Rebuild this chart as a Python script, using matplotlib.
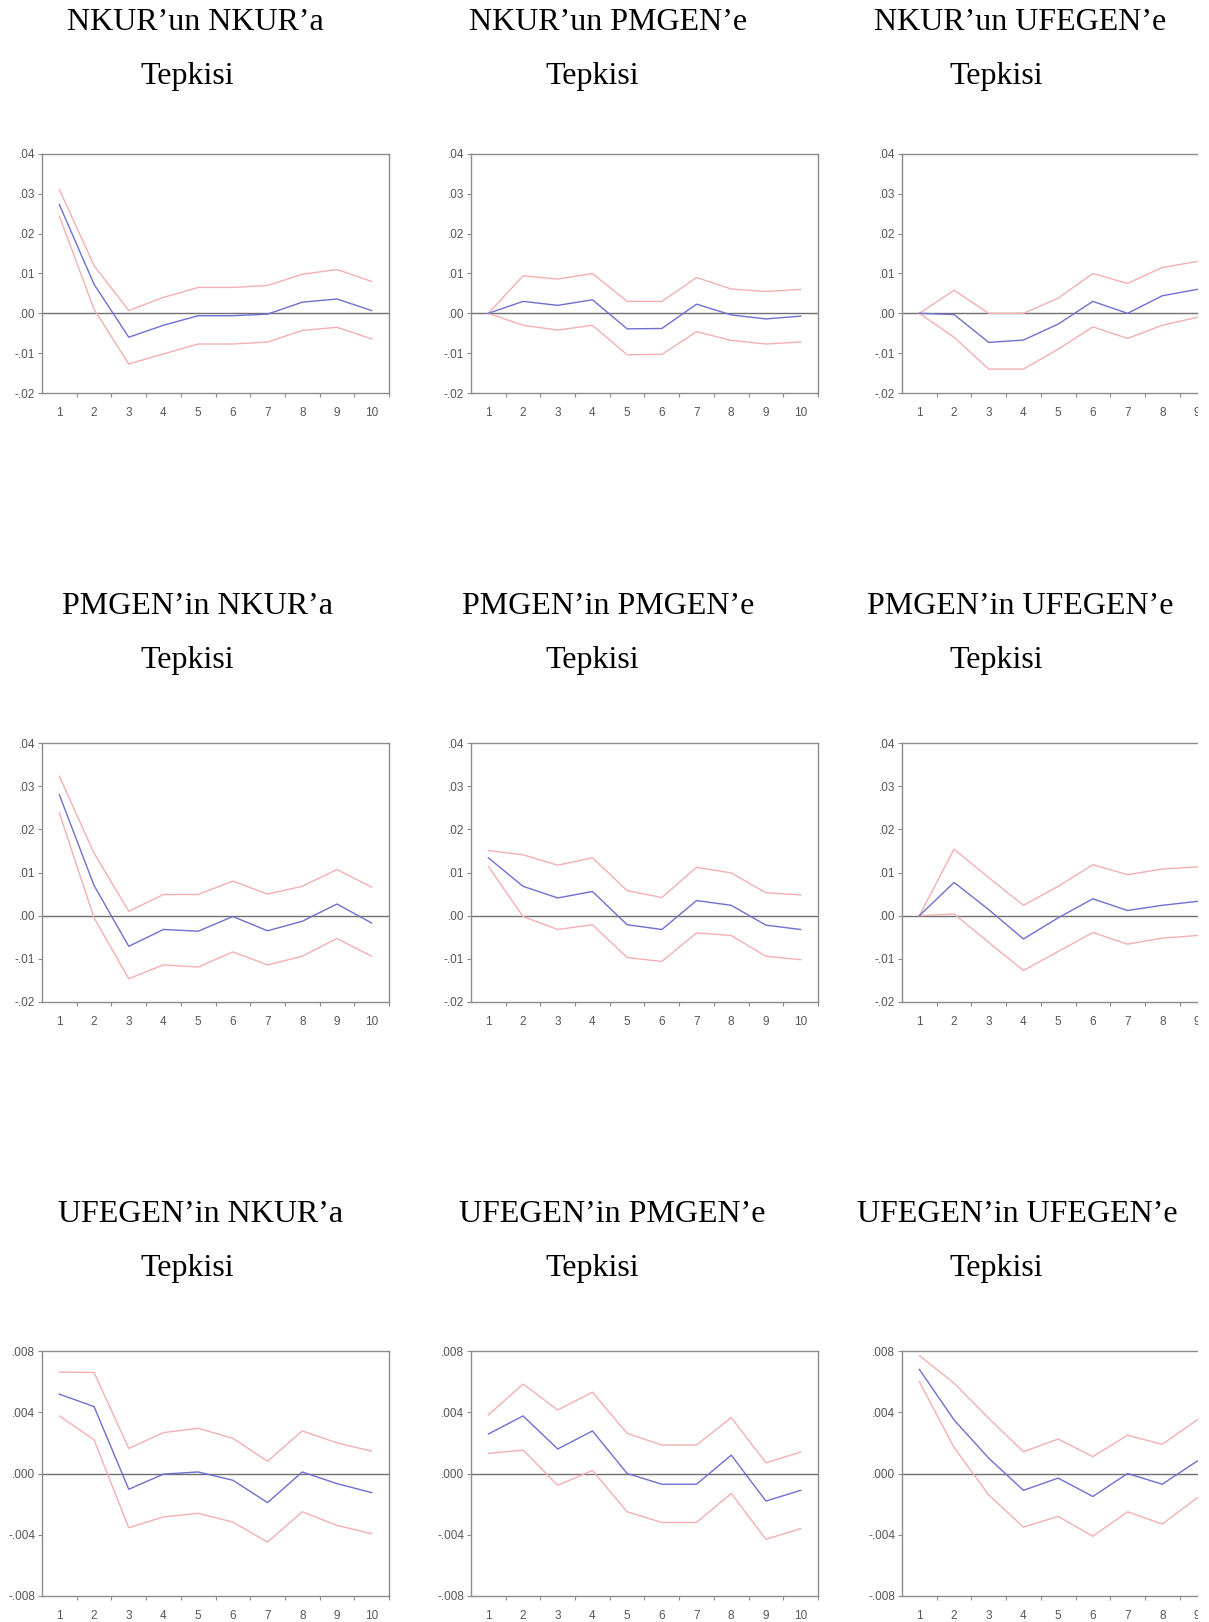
import matplotlib
matplotlib.use('Agg')
import matplotlib.pyplot as plt
from matplotlib.patches import Rectangle

W, H = 1209, 1622

periods = [1, 2, 3, 4, 5, 6, 7, 8, 9, 10]

# row 1: NKUR responses
nkur_nkur = [0.0273, 0.0073, -0.0060, -0.0030, -0.0006, -0.0006, -0.0002, 0.0028, 0.0036, 0.0007]
nkur_nkur_up = [0.0311, 0.0120, 0.0007, 0.0040, 0.0065, 0.0065, 0.0070, 0.0098, 0.0110, 0.0080]
nkur_nkur_lo = [0.0244, 0.0010, -0.0127, -0.0102, -0.0077, -0.0077, -0.0072, -0.0043, -0.0035, -0.0064]

nkur_pmgen = [0.0, 0.0030, 0.0020, 0.0034, -0.0039, -0.0038, 0.0023, -0.0004, -0.0014, -0.0007]
nkur_pmgen_up = [0.0, 0.0094, 0.0086, 0.0100, 0.0030, 0.0030, 0.0090, 0.0061, 0.0055, 0.0060]
nkur_pmgen_lo = [0.0, -0.0030, -0.0042, -0.0030, -0.0104, -0.0103, -0.0046, -0.0068, -0.0077, -0.0072]

nkur_ufegen = [0.0, -0.0003, -0.0073, -0.0067, -0.0027, 0.0030, 0.0, 0.0044, 0.0060, 0.0065]
nkur_ufegen_up = [0.0, 0.0058, 0.0, 0.0, 0.0038, 0.0100, 0.0075, 0.0115, 0.0130, 0.0140]
nkur_ufegen_lo = [0.0, -0.0060, -0.0140, -0.0140, -0.0090, -0.0034, -0.0063, -0.0030, -0.0010, -0.0005]

# row 2: PMGEN responses
pmgen_nkur = [0.0280, 0.0070, -0.0071, -0.0032, -0.0036, -0.0002, -0.0035, -0.0013, 0.0027, -0.0017]
pmgen_nkur_up = [0.0323, 0.0145, 0.0010, 0.0049, 0.0049, 0.0080, 0.0050, 0.0068, 0.0107, 0.0066]
pmgen_nkur_lo = [0.0238, -0.0005, -0.0146, -0.0114, -0.0119, -0.0084, -0.0114, -0.0094, -0.0053, -0.0094]

pmgen_pmgen = [0.0134, 0.0068, 0.0041, 0.0056, -0.0021, -0.0032, 0.0035, 0.0024, -0.0022, -0.0032]
pmgen_pmgen_up = [0.0151, 0.0141, 0.0117, 0.0134, 0.0058, 0.0042, 0.0112, 0.0099, 0.0053, 0.0048]
pmgen_pmgen_lo = [0.0114, -0.0002, -0.0032, -0.0021, -0.0097, -0.0106, -0.0040, -0.0046, -0.0094, -0.0102]

pmgen_ufegen = [0.0, 0.0077, 0.0014, -0.0054, -0.0005, 0.0039, 0.0012, 0.0024, 0.0033, 0.0036]
pmgen_ufegen_up = [0.0, 0.0154, 0.0088, 0.0024, 0.0068, 0.0118, 0.0095, 0.0108, 0.0113, 0.0115]
pmgen_ufegen_lo = [0.0, 0.0004, -0.0062, -0.0127, -0.0083, -0.0039, -0.0066, -0.0052, -0.0046, -0.0045]

# row 3: UFEGEN responses
ufegen_nkur = [0.00518, 0.00437, -0.00103, -0.00004, 0.00010, -0.00044, -0.00190, 0.00010, -0.00066, -0.00125]
ufegen_nkur_up = [0.00662, 0.00660, 0.00164, 0.00267, 0.00295, 0.00230, 0.00080, 0.00278, 0.00200, 0.00146]
ufegen_nkur_lo = [0.00376, 0.00220, -0.00354, -0.00284, -0.00260, -0.00317, -0.00448, -0.00250, -0.00339, -0.00393]

ufegen_pmgen = [0.00258, 0.00376, 0.00160, 0.00278, 0.0, -0.00070, -0.00070, 0.00120, -0.00180, -0.00110]
ufegen_pmgen_up = [0.00383, 0.00584, 0.00415, 0.00531, 0.00262, 0.00186, 0.00186, 0.00365, 0.00070, 0.00140]
ufegen_pmgen_lo = [0.00131, 0.00153, -0.00077, 0.00020, -0.00250, -0.00320, -0.00320, -0.00130, -0.00430, -0.00360]

ufegen_ufegen = [0.00680, 0.00350, 0.00100, -0.00110, -0.00030, -0.00150, 0.0, -0.00070, 0.00080, 0.00150]
ufegen_ufegen_up = [0.00770, 0.00590, 0.00360, 0.00142, 0.00225, 0.00110, 0.00250, 0.00190, 0.00350, 0.00450]
ufegen_ufegen_lo = [0.00600, 0.00170, -0.00140, -0.00350, -0.00280, -0.00410, -0.00250, -0.00330, -0.00160, -0.00050]

big_ticks = [-0.02, -0.01, 0.0, 0.01, 0.02, 0.03, 0.04]
big_labels = ['-.02', '-.01', '.00', '.01', '.02', '.03', '.04']
small_ticks = [-0.008, -0.004, 0.0, 0.004, 0.008]
small_labels = ['-.008', '-.004', '.000', '.004', '.008']

titles = [
    ['NKUR\u2019un NKUR\u2019a', 'NKUR\u2019un PMGEN\u2019e', 'NKUR\u2019un UFEGEN\u2019e'],
    ['PMGEN\u2019in NKUR\u2019a', 'PMGEN\u2019in PMGEN\u2019e', 'PMGEN\u2019in UFEGEN\u2019e'],
    ['UFEGEN\u2019in NKUR\u2019a', 'UFEGEN\u2019in PMGEN\u2019e', 'UFEGEN\u2019in UFEGEN\u2019e'],
]
panels = [
    [(nkur_nkur, nkur_nkur_up, nkur_nkur_lo), (nkur_pmgen, nkur_pmgen_up, nkur_pmgen_lo),
     (nkur_ufegen, nkur_ufegen_up, nkur_ufegen_lo)],
    [(pmgen_nkur, pmgen_nkur_up, pmgen_nkur_lo), (pmgen_pmgen, pmgen_pmgen_up, pmgen_pmgen_lo),
     (pmgen_ufegen, pmgen_ufegen_up, pmgen_ufegen_lo)],
    [(ufegen_nkur, ufegen_nkur_up, ufegen_nkur_lo), (ufegen_pmgen, ufegen_pmgen_up, ufegen_pmgen_lo),
     (ufegen_ufegen, ufegen_ufegen_up, ufegen_ufegen_lo)],
]

# pixel layout
col_left = [42, 471, 902]
col_w = 347
row_top = [154, 743, 1351]
row_bot = [393, 1002, 1596]
title_x = [[195, 608, 1020], [198, 608, 1020], [201, 612, 1017]]
tep_x = [187, 592, 996]
title_base = [30, 614, 1222]

GRAY = '#8c8c8c'

fig = plt.figure(figsize=(W / 100, H / 100), dpi=100)

for r in range(3):
    for c in range(3):
        ax = fig.add_axes([col_left[c] / W, 1 - row_bot[r] / H,
                           col_w / W, (row_bot[r] - row_top[r]) / H])
        resp, up, lo = panels[r][c]
        ax.axhline(0, color='#707070', lw=1.0, zorder=1)
        ax.plot(periods, up, color='#f4b0b0', lw=1.0, zorder=2)
        ax.plot(periods, lo, color='#f4b0b0', lw=1.0, zorder=2)
        ax.plot(periods, resp, color='#6f6fcf', lw=1.0, zorder=3)
        ax.set_xlim(0.5, 10.5)
        if r < 2:
            ax.set_ylim(-0.02, 0.04)
            ax.set_yticks(big_ticks)
            ax.set_yticklabels(big_labels)
        else:
            ax.set_ylim(-0.008, 0.008)
            ax.set_yticks(small_ticks)
            ax.set_yticklabels(small_labels)
        ax.set_xticks(periods)
        ax.set_xticklabels([str(p) for p in periods])
        ax.set_xticks([p + 0.5 for p in periods], minor=True)
        ax.tick_params(axis='x', which='major', length=0, pad=10,
                       labelsize=8.5, labelcolor='#555555')
        ax.tick_params(axis='x', which='minor', length=3, color=GRAY, width=0.8)
        ax.tick_params(axis='y', length=3, color=GRAY, width=0.8, pad=2,
                       labelsize=8.5, labelcolor='#555555')
        for lab in ax.get_xticklabels() + ax.get_yticklabels():
            lab.set_fontfamily('Liberation Sans')
        for s in ax.spines.values():
            s.set_color(GRAY)
            s.set_linewidth(1.0)

        fig.text(title_x[r][c] / W, 1 - title_base[r] / H, titles[r][c],
                 ha='center', va='baseline', fontfamily='Liberation Serif', fontsize=23)
        fig.text(tep_x[c] / W, 1 - (title_base[r] + 54) / H, 'Tepkisi',
                 ha='center', va='baseline', fontfamily='Liberation Serif', fontsize=23)

# the right column is cut off at the page edge
fig.patches.append(Rectangle((1198 / W, 0), 1 - 1198 / W, 1, transform=fig.transFigure,
                             facecolor='white', edgecolor='none', zorder=10))

fig.savefig('out.png', dpi=100)
